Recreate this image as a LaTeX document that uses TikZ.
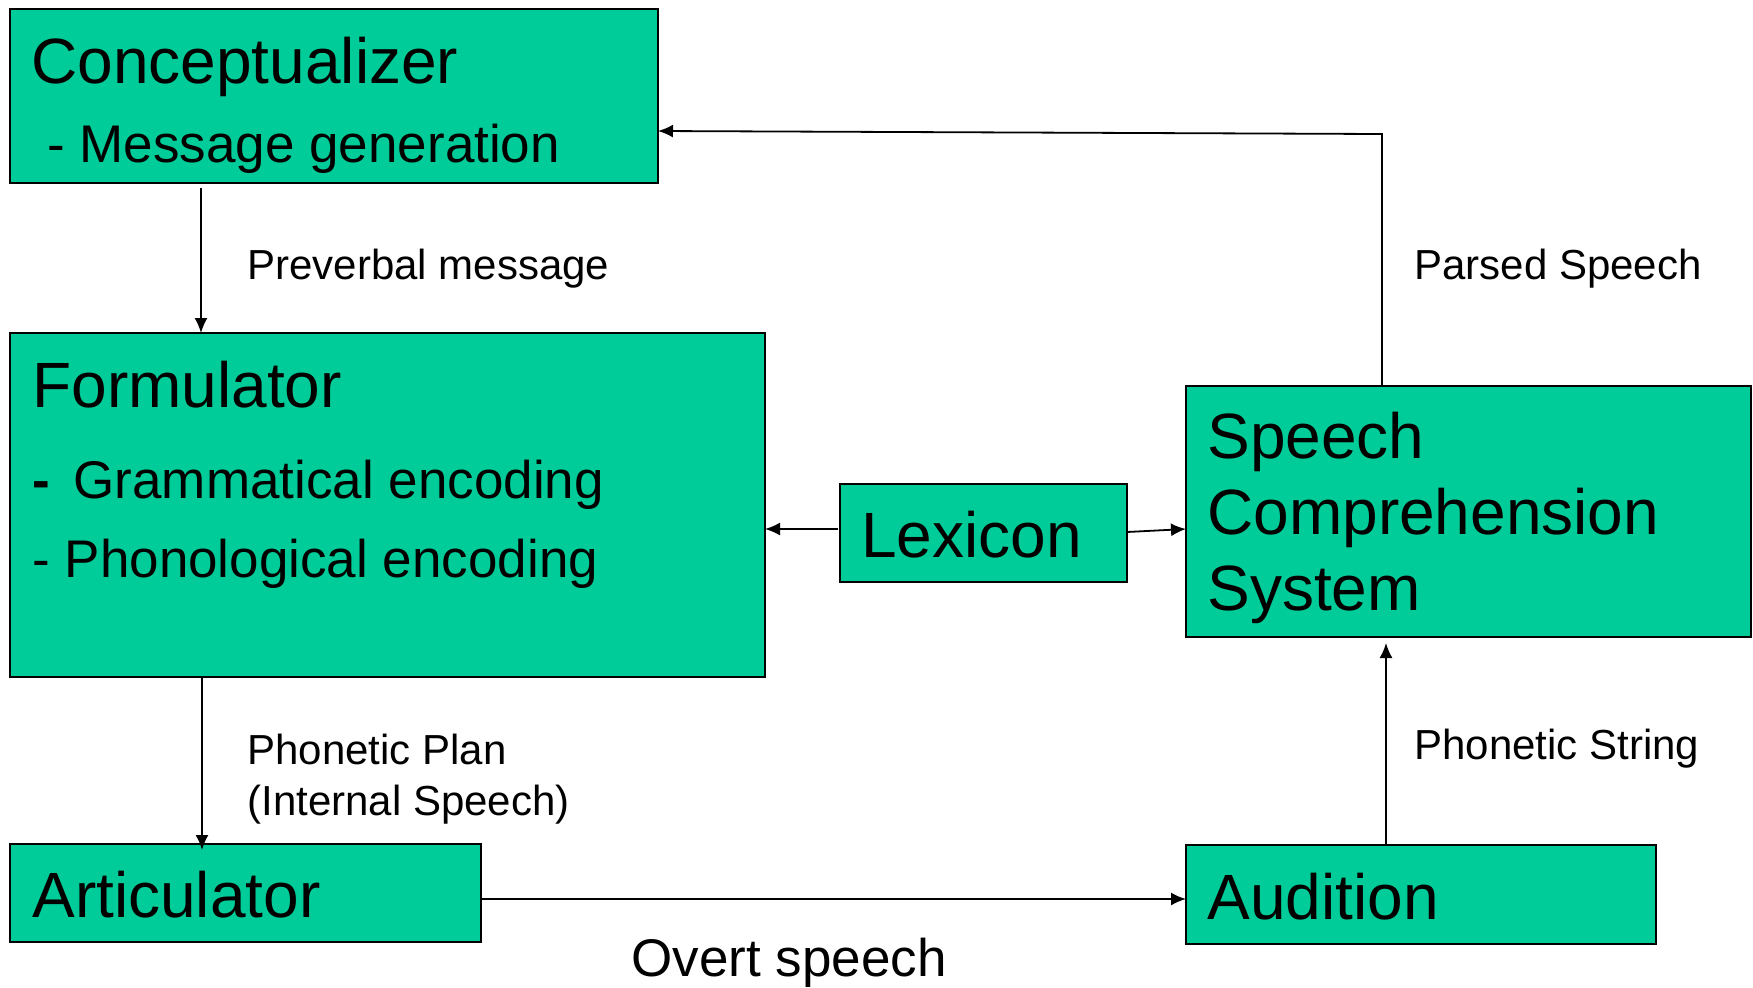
\documentclass[tikz,border=0pt]{standalone}
\usepackage{fontspec}
\setmainfont{Liberation Sans}
\usetikzlibrary{arrows.meta}
\definecolor{boxgreen}{RGB}{0,204,153}
\tikzset{
  box/.style={draw=black, line width=1.3pt, fill=boxgreen, anchor=north west, inner sep=0pt, outer sep=0pt},
  head/.style={anchor=base west, inner sep=0pt, font=\fontsize{32}{38}\selectfont},
  sub/.style={anchor=base west, inner sep=0pt, font=\fontsize{26.5}{32}\selectfont},
  lbl/.style={anchor=base west, inner sep=0pt, font=\fontsize{21}{25}\selectfont},
  arr/.style={line width=0.9pt, -{Latex[length=7.5pt,width=6.5pt]}}
}
\begin{document}
\begin{tikzpicture}[x=0.5pt,y=-0.5pt]
\useasboundingbox (0,0) rectangle (1753,987);
% boxes
\node[box, minimum width=324pt, minimum height=87pt] (concept) at (10,9) {};
\node[box, minimum width=377.5pt, minimum height=172pt] (form) at (10,333) {};
\node[box, minimum width=143.5pt, minimum height=49pt] (lex) at (840,484) {};
\node[box, minimum width=282.5pt, minimum height=125.5pt] (scs) at (1186,386) {};
\node[box, minimum width=235.5pt, minimum height=49pt] (artic) at (10,844) {};
\node[box, minimum width=235pt, minimum height=49.5pt] (aud) at (1186,845) {};
% texts
\node[head] (tconcept) at (31,83) {Conceptualizer};
\node[sub] (tmsg) at (47,162) {- Message generation};
\node[head] (tform) at (32,407) {Formulator};
\node[sub] (tgram) at (32,498) {{\bfseries -}\, Grammatical encoding};
\node[sub] (tphon) at (32,577) {- Phonological encoding};
\node[head] (tlex) at (861,557) {Lexicon};
\node[head] (tscs1) at (1207,458) {Speech};
\node[head] (tscs2) at (1207,534) {Comprehension};
\node[head] (tscs3) at (1207,610) {System};
\node[head] (tartic) at (32,917) {Articulator};
\node[head] (taud) at (1207,919) {Audition};
\node[lbl] (lpre) at (247,279) {Preverbal message};
\node[lbl] (lparsed) at (1414,279) {Parsed Speech};
\node[lbl] (lplan1) at (247,764) {Phonetic Plan};
\node[lbl] (lplan2) at (247,815) {(Internal Speech)};
\node[lbl] (lstring) at (1414,759) {Phonetic String};
\node[sub] (lovert) at (631,976) {Overt speech};
% connectors
\coordinate (pbend) at (1382,134);
\draw[arr] ([xshift=95.5pt,yshift=-2.5pt]concept.south west) -- ([xshift=95.5pt]form.north west);
\draw[arr] (scs.north -| pbend) -- (pbend) -- ([yshift=-17.5pt]concept.east);
\draw[arr] ([xshift=-1pt,yshift=2pt]lex.west) -- ([yshift=2pt]lex.west -| form.east);
\draw[arr] ([yshift=0.5pt]lex.east) -- ([yshift=-8.75pt]scs.west);
\draw[arr] ([xshift=96pt]form.south west) -- ([xshift=96pt,yshift=-3pt]artic.north west);
\draw[arr] ([xshift=100pt]aud.north west) -- ([xshift=100pt,yshift=-3pt]scs.south west);
\draw[arr] ([yshift=-3pt]artic.east) -- ([yshift=-2.25pt]aud.west);
\end{tikzpicture}
\end{document}
